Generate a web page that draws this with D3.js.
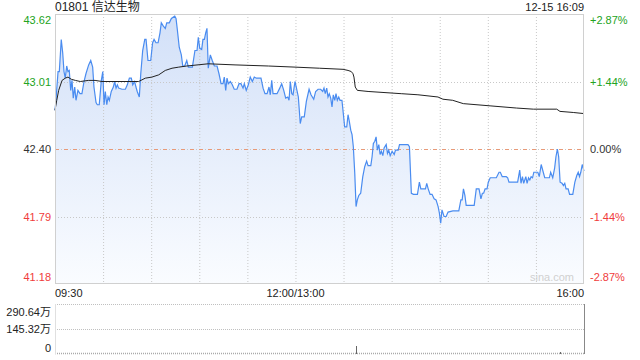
<!DOCTYPE html>
<html>
<head>
<meta charset="utf-8">
<script src="https://d3js.org/d3.v7.min.js"></script>
<style>
	body { margin: 0; background: #fff; }
	text { font-family: "Liberation Sans", Arial, "Noto Sans CJK SC", sans-serif; }
</style>
</head>
<body>
<script>
// stock header
var stockName = "01801 信达生物";
var stampText = "12-15 16:09";

// previous close and price axis ticks
var prevClose = 42.40;
var priceTicks = [43.62, 43.01, 42.40, 41.79, 41.18];
var pctTicks = ["+2.87%", "+1.44%", "0.00%", "-1.44%", "-2.87%"];

// time axis (minutes after 09:30, lunch break removed)
var timeTickMinutes = [0, 150, 330];
var timeTickLabels = ["09:30", "12:00/13:00", "16:00"];
var gridMinutes = [30, 60, 90, 120, 150, 180, 210, 240, 270, 300];

// volume axis (万)
var volTicks = [290.64, 145.32, 0];
var volTickLabels = ["290.64万", "145.32万", "0"];

// price line [minute, price]
var priceSeries = [[0,42.75],[0.6,42.84],[1.9,43.10],[2.7,43.10],[3.9,43.39],[4.8,43.27],[5.6,43.10],[6.4,43.04],[7.3,43.15],[8.1,43.10],[8.9,43.11],[9.8,42.93],[10.6,43.02],[11.4,42.86],[12.3,42.96],[13.1,42.84],[14.3,42.93],[15.6,42.90],[16.8,42.90],[18.1,43.01],[19.3,43.08],[21.0,43.16],[22.3,43.20],[23.5,43.14],[24.3,42.96],[25.6,42.82],[26.4,42.80],[27.6,42.80],[28.9,43.02],[29.8,43.10],[30.6,42.80],[31.4,42.92],[32.3,42.80],[33.1,42.87],[33.9,42.84],[35.1,42.92],[36.4,42.96],[37.2,43.01],[38.1,42.95],[38.9,42.98],[39.7,42.95],[41.8,42.94],[43.9,42.94],[45.1,42.98],[46.4,43.04],[47.6,43.04],[48.5,42.98],[49.7,43.01],[50.5,42.96],[51.3,42.92],[52.6,42.87],[53.5,43.08],[54.7,43.29],[56.0,43.39],[56.8,43.39],[58.0,43.20],[59.7,43.20],[60.9,43.36],[61.8,43.39],[63.0,43.36],[64.3,43.36],[65.5,43.45],[66.3,43.54],[67.6,43.51],[68.8,43.49],[69.7,43.54],[71.3,43.54],[72.6,43.58],[74.7,43.60],[75.5,43.58],[76.3,43.48],[77.5,43.32],[78.8,43.25],[79.7,43.15],[80.9,43.15],[82.2,43.20],[83.2,43.14],[85.7,43.14],[87.3,43.29],[88.6,43.29],[89.4,43.41],[90.3,43.31],[91.5,43.30],[92.3,43.39],[93.2,43.39],[94.0,43.45],[94.8,43.49],[95.6,43.13],[96.9,43.25],[98.1,43.20],[99.4,43.15],[101.1,43.15],[102.3,43.08],[103.6,42.99],[104.8,42.99],[105.6,43.05],[106.5,42.93],[107.3,43.04],[108.1,42.99],[109.4,43.01],[110.6,42.98],[111.8,42.94],[113.5,42.94],[114.8,42.99],[116.0,42.99],[117.3,42.95],[118.1,42.99],[119.3,42.93],[120.6,42.98],[121.8,43.05],[123.1,43.01],[124.3,43.05],[125.6,43.04],[128.5,43.04],[129.8,42.95],[131.0,42.90],[132.3,42.90],[133.5,42.96],[134.3,42.89],[135.2,43.02],[136.0,42.90],[138.5,42.90],[140.2,42.95],[141.4,42.99],[142.7,42.93],[143.9,42.86],[145.2,42.87],[146.0,42.84],[146.8,43.01],[147.7,42.90],[148.5,42.89],[149.7,43.01],[150.5,42.96],[151.8,42.87],[153.0,42.63],[153.9,42.69],[155.5,42.69],[156.8,42.83],[158.5,42.94],[159.7,42.89],[161.4,42.85],[162.6,42.92],[164.1,42.94],[165.7,42.94],[167.0,42.92],[167.8,42.95],[168.6,42.90],[169.5,42.95],[170.3,42.87],[171.1,42.90],[172.0,42.86],[172.8,42.78],[173.6,42.89],[174.5,42.84],[175.3,42.90],[176.1,42.84],[177.0,42.87],[177.8,42.84],[179.0,42.84],[180.7,42.60],[182.0,42.60],[182.8,42.71],[183.6,42.65],[184.5,42.57],[185.3,42.53],[186.1,42.42],[187.0,42.18],[187.8,41.88],[188.6,41.94],[189.5,41.98],[190.7,42.00],[192.0,42.15],[193.2,42.24],[194.4,42.29],[195.3,42.25],[197.0,42.25],[197.8,42.33],[198.6,42.45],[199.5,42.47],[200.3,42.51],[201.1,42.39],[202.0,42.44],[202.8,42.35],[203.6,42.38],[204.5,42.34],[205.3,42.41],[206.6,42.44],[207.4,42.36],[208.2,42.39],[209.1,42.34],[210.3,42.38],[211.6,42.35],[212.4,42.39],[214.1,42.39],[214.9,42.44],[217.3,42.44],[220.2,42.44],[221.1,42.42],[222.3,42.00],[223.6,41.99],[226.1,41.99],[227.3,42.10],[228.2,42.04],[231.1,42.04],[231.9,42.09],[232.8,42.04],[234.0,41.99],[235.2,41.99],[236.5,41.95],[237.7,41.94],[239.0,41.88],[239.8,41.82],[240.6,41.73],[241.4,41.85],[242.7,41.79],[244.0,41.79],[245.2,41.83],[248.2,41.84],[251.9,41.84],[253.2,41.94],[254.0,41.94],[254.8,42.04],[255.7,41.98],[256.5,41.89],[261.5,41.89],[262.8,42.04],[264.5,42.04],[265.7,41.95],[266.6,42.00],[267.4,42.00],[268.3,42.04],[269.5,42.04],[270.3,42.10],[271.5,42.14],[275.3,42.14],[277.0,42.19],[277.8,42.19],[279.0,42.15],[281.5,42.15],[282.4,42.14],[283.2,42.10],[288.6,42.10],[289.9,42.21],[290.7,42.09],[291.6,42.15],[292.4,42.09],[293.7,42.15],[294.5,42.09],[295.4,42.14],[296.2,42.12],[297.0,42.15],[297.9,42.14],[298.7,42.19],[301.2,42.19],[302.1,42.15],[303.3,42.26],[304.2,42.21],[305.5,42.14],[308.4,42.14],[309.2,42.19],[310.5,42.14],[311.7,42.23],[312.5,42.33],[313.4,42.40],[314.2,42.33],[315.1,42.10],[316.3,42.09],[317.2,42.07],[318.0,42.09],[318.8,42.04],[320.1,42.04],[321.0,41.99],[323.0,41.99],[324.3,42.10],[325.5,42.16],[326.4,42.19],[327.2,42.15],[328.0,42.19],[328.9,42.26],[330,42.20]];

// average price line [minute, price]
var avgSeries = [[0,42.75],[1.1,42.84],[2.3,42.93],[4.4,43.02],[6.4,43.04],[8.1,43.05],[10.2,43.03],[12.7,43.02],[15.8,43.01],[21.0,43.02],[25.0,43.02],[29.3,43.01],[48.0,43.01],[52.2,43.01],[56.3,43.04],[60.5,43.05],[64.7,43.07],[68.8,43.11],[73.0,43.13],[77.2,43.14],[82.2,43.15],[95.6,43.17],[112.3,43.16],[133.1,43.15],[149.7,43.14],[165.1,43.13],[179.7,43.12],[182.8,43.11],[184.8,43.10],[185.9,43.08],[186.5,43.05],[187.3,42.96],[188.6,42.93],[195.3,42.92],[216.0,42.90],[226.4,42.89],[238.9,42.87],[242.0,42.85],[248.1,42.84],[254.7,42.81],[271.4,42.79],[288.0,42.77],[298.4,42.76],[313.0,42.76],[315.0,42.74],[323.3,42.73],[330,42.72]];

// visible volume bars [minute, 万]
var volSeries = [[188,46.5],[315,11.6]];

window.onload = function(){
	var w = 640, h = 360;
	var green = "#22a322", red = "#f03c3c", dark = "#333";

	var svg = d3.select("body")
		.append("svg")
		.attr("width", w)
		.attr("height", h)
		.style("background-color", "#fff");

	// scales
	var x = d3.scaleLinear().domain([0, 330]).range([55, 584]);
	var y = d3.scaleLinear().domain([41.18, 43.62]).range([284, 14]);
	var yv = d3.scaleLinear().domain([0, 290.64]).range([354, 304]);

	// area gradient
	var grad = svg.append("defs").append("linearGradient")
		.attr("id", "fillGrad")
		.attr("gradientUnits", "userSpaceOnUse")
		.attr("x1", 0).attr("y1", y(43.62))
		.attr("x2", 0).attr("y2", y(41.18));
	grad.append("stop").attr("offset", "0%").attr("stop-color", "#d2e0f8");
	grad.append("stop").attr("offset", "100%").attr("stop-color", "#fafcff");

	// header texts
	svg.append("text")
		.attr("x", 55).attr("y", 11)
		.style("font-size", "12px").style("fill", "#222")
		.text(stockName);
	svg.append("text")
		.attr("x", 584).attr("y", 11)
		.attr("text-anchor", "end")
		.style("font-size", "11px").style("fill", "#222")
		.text(stampText);

	// price area + lines
	var area = d3.area()
		.x(function(d){ return x(d[0]); })
		.y0(y(41.18))
		.y1(function(d){ return y(d[1]); });
	var line = d3.line()
		.x(function(d){ return x(d[0]); })
		.y(function(d){ return y(d[1]); });

	svg.append("path")
		.datum(priceSeries)
		.attr("d", area)
		.style("fill", "url(#fillGrad)");

	// grid lines
	svg.selectAll(".vgrid")
		.data(gridMinutes)
		.enter()
		.append("line")
		.attr("class", "vgrid")
		.attr("x1", function(d){ return x(d) + 0.5; })
		.attr("x2", function(d){ return x(d) + 0.5; })
		.attr("y1", 14).attr("y2", 284)
		.style("stroke", "#c8c8c8")
		.style("stroke-dasharray", "1,2");

	svg.selectAll(".hgrid")
		.data([43.01, 42.40, 41.79])
		.enter()
		.append("line")
		.attr("class", "hgrid")
		.attr("x1", 55).attr("x2", 584)
		.attr("y1", function(d){ return Math.round(y(d)) + 0.5; })
		.attr("y2", function(d){ return Math.round(y(d)) + 0.5; })
		.style("stroke", "#c8c8c8")
		.style("stroke-dasharray", "1,2");

	// previous close dashed line
	svg.append("line")
		.attr("x1", 55).attr("x2", 584)
		.attr("y1", Math.round(y(prevClose)) + 0.5)
		.attr("y2", Math.round(y(prevClose)) + 0.5)
		.style("stroke", "#e89a78")
		.style("stroke-dasharray", "4,5");

	// price line
	svg.append("path")
		.datum(priceSeries)
		.attr("d", line)
		.style("fill", "none")
		.style("stroke", "#4a8cf0")
		.style("stroke-width", 1.2);

	// average line
	svg.append("path")
		.datum(avgSeries)
		.attr("d", line)
		.style("fill", "none")
		.style("stroke", "#222")
		.style("stroke-width", 1);

	// plot frame
	svg.append("rect")
		.attr("x", 55.5).attr("y", 14.5)
		.attr("width", 528).attr("height", 269)
		.style("fill", "none")
		.style("stroke", "#d0d0d0");

	// watermark
	svg.append("text")
		.attr("x", 574).attr("y", 281)
		.attr("text-anchor", "end")
		.style("font-size", "11px").style("fill", "#d0d0d0")
		.text("sina.com");

	// left price labels
	var labelShift = [6, 0, 0, 0, -7];
	svg.selectAll(".pLabel")
		.data(priceTicks)
		.enter()
		.append("text")
		.attr("class", "pLabel")
		.attr("x", 51)
		.attr("y", function(d, i){ return y(d) + labelShift[i] + 4; })
		.attr("text-anchor", "end")
		.style("font-size", "11px")
		.style("fill", function(d){ return d > prevClose ? green : (d < prevClose ? red : dark); })
		.text(function(d){ return d.toFixed(2); });

	// right percent labels
	svg.selectAll(".rLabel")
		.data(pctTicks)
		.enter()
		.append("text")
		.attr("class", "rLabel")
		.attr("x", 590)
		.attr("y", function(d, i){ return y(priceTicks[i]) + labelShift[i] + 4; })
		.style("font-size", "11px")
		.style("fill", function(d, i){ return priceTicks[i] > prevClose ? green : (priceTicks[i] < prevClose ? red : dark); })
		.text(function(d){ return d; });

	// time labels
	svg.selectAll(".tLabel")
		.data(timeTickLabels)
		.enter()
		.append("text")
		.attr("class", "tLabel")
		.attr("x", function(d, i){ return x(timeTickMinutes[i]); })
		.attr("y", 297)
		.attr("text-anchor", function(d, i){ return i == 0 ? "start" : (i == 1 ? "middle" : "end"); })
		.style("font-size", "11px").style("fill", "#222")
		.text(function(d){ return d; });

	// volume panel grid
	svg.selectAll(".vol-grid")
		.data([290.64, 145.32])
		.enter()
		.append("line")
		.attr("class", "vol-grid")
		.attr("x1", 55).attr("x2", 584)
		.attr("y1", function(d){ return Math.round(yv(d)) + 0.5; })
		.attr("y2", function(d){ return Math.round(yv(d)) + 0.5; })
		.style("stroke", "#c0c0c0")
		.style("stroke-dasharray", "1,1");

	// volume baseline (tiny bars look)
	svg.append("line")
		.attr("x1", 55).attr("x2", 584)
		.attr("y1", yv(0) - 0.5).attr("y2", yv(0) - 0.5)
		.style("stroke", "#aaa")
		.style("stroke-width", 1.5)
		.style("stroke-dasharray", "1,1");

	svg.append("line")
		.attr("x1", 55.5).attr("x2", 55.5)
		.attr("y1", 304).attr("y2", 354)
		.style("stroke", "#e0e0e0");
	svg.append("line")
		.attr("x1", 584.5).attr("x2", 584.5)
		.attr("y1", 304).attr("y2", 354)
		.style("stroke", "#888");

	// volume bars
	svg.selectAll(".vbar")
		.data(volSeries)
		.enter()
		.append("line")
		.attr("class", "vbar")
		.attr("x1", function(d){ return Math.round(x(d[0])) + 0.5; })
		.attr("x2", function(d){ return Math.round(x(d[0])) + 0.5; })
		.attr("y1", yv(0))
		.attr("y2", function(d){ return yv(d[1]); })
		.style("stroke", "#666");

	// volume labels
	var volShift = [8, 0, -6];
	svg.selectAll(".vLabel")
		.data(volTickLabels)
		.enter()
		.append("text")
		.attr("class", "vLabel")
		.attr("x", 51)
		.attr("y", function(d, i){ return yv(volTicks[i]) + volShift[i] + 4; })
		.attr("text-anchor", "end")
		.style("font-size", "11px").style("fill", "#222")
		.text(function(d){ return d; });
};
</script>
</body>
</html>
